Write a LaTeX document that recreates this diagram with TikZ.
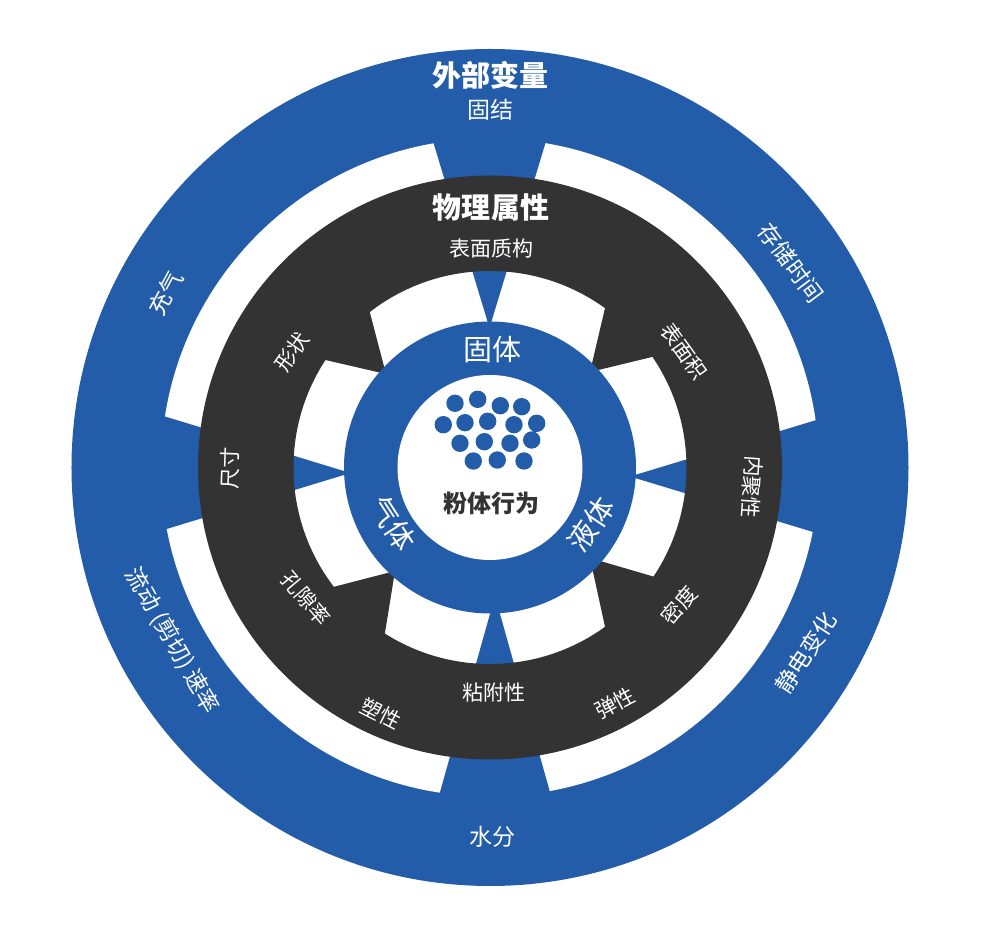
\documentclass[tikz,border=0pt]{standalone}
\usepackage{fontspec}
\newfontfamily\cjk{Noto Sans CJK SC}
\definecolor{ringblue}{RGB}{35,93,169}
\definecolor{ringdark}{RGB}{51,51,51}

\begin{document}
\begin{tikzpicture}[x=1pt, y=1pt,
    outerlabel/.style={text=white, inner sep=0pt, font=\cjk\fontsize{23}{23}\selectfont},
    innerlabel/.style={text=white, inner sep=0pt, font=\cjk\fontsize{21}{21}\selectfont},
    phaselabel/.style={text=white, inner sep=0pt, font=\cjk\fontsize{29}{29}\selectfont},
    ringtitle/.style={text=white, inner sep=0pt, font=\cjk\bfseries\fontsize{29}{29}\selectfont}]

    \useasboundingbox (-490,-473.5) rectangle (505,467.5);

    % Outer ring
    \fill[ringblue] (0,0) circle (418.5);
    \fill[white] (0,0) circle (329);

    % Blue gaps
    \fill[ringblue] (-0.5,139.5) -- (-69.5,367.5) -- (68.5,367.5) -- cycle;
    \fill[ringblue] (5,-128.5) -- (-62,-367.5) -- (72,-367.5) -- cycle;
    \fill[ringblue] (-139.6,-5.5) -- (-368,64.1) -- (-368,-75.1) -- cycle;
    \fill[ringblue] (140,-9) -- (370,60.7) -- (370,-78.7) -- cycle;

    % Dark ring
    \fill[ringdark, even odd rule] (0,0) circle (292) (0,0) circle (196.5);

    % Dark gaps
    \fill[ringdark] (100,95.5) -- +(13.6:150) -- +(76.8:150) -- cycle;
    \fill[ringdark] (-104,93.5) -- +(104.7:150) -- +(167:150) -- cycle;
    \fill[ringdark] (-95,-103.5) -- +(194.5:150) -- +(260.8:150) -- cycle;
    \fill[ringdark] (100,-90.5) -- +(-16.3:150) -- +(-77.7:150) -- cycle;

    % Phases
    \fill[ringblue] (0,0) circle (146);
    \fill[white] (0,0) circle (92.5);

    % Grains
    \fill[ringblue] (-35,64.2) circle (8.7) (-12.3,68.2) circle (8.7)
        (10.3,61.8) circle (8.7) (31.7,60.8) circle (8.7)
        (-46.7,42.8) circle (8.7) (-25,44.8) circle (8.7) (-2.3,46.2) circle (8.7)
        (24,42.8) circle (8.7) (46.7,44.2) circle (8.7)
        (-30,24.2) circle (8.7) (-5.7,25.8) circle (8.7) (20,24.2) circle (8.7)
        (41.7,27.5) circle (8.7)
        (-16.7,6.5) circle (8.7) (7.3,7.5) circle (8.7) (34,6.5) circle (8.7);

    % External variables
    \node[ringtitle] (external) at (0,392.5) {外部变量};
    \node[outerlabel] (consolidation) at (0,357.5) {固结};
    \node[outerlabel, rotate=-53] (storage) at (301,204.5) {存储时间};
    \node[outerlabel, rotate=57] (static) at (316,-185) {静电变化};
    \node[outerlabel] (moisture) at (2.5,-369.5) {水分};
    \node[outerlabel, rotate=-60] (flowrate) at (-318,-173.5) {流动 (剪切) 速率};
    \node[outerlabel, rotate=62] (aeration) at (-324,174.5) {充气};

    % Physical properties
    \node[ringtitle] (physical) at (1,260) {物理属性};
    \node[innerlabel] (texture) at (1,218.5) {表面质构};
    \node[innerlabel, rotate=-54] (area) at (194,116.5) {表面积};
    \node[innerlabel, rotate=-94] (cohesion) at (262,-19.5) {内聚性};
    \node[innerlabel, rotate=50] (density) at (189,-137.5) {密度};
    \node[innerlabel, rotate=28] (elasticity) at (125,-235.5) {弹性};
    \node[innerlabel] (adhesion) at (3.5,-225.5) {粘附性};
    \node[innerlabel, rotate=-27] (plasticity) at (-109,-246) {塑性};
    \node[innerlabel, rotate=-50] (porosity) at (-184,-130.5) {孔隙率};
    \node[innerlabel, rotate=88] (size) at (-260,-0.5) {尺寸};
    \node[innerlabel, rotate=55] (shape) at (-198,116) {形状};

    % Phase labels
    \node[phaselabel] (solid) at (2.5,118) {固体};
    \node[phaselabel, rotate=56] (liquid) at (101,-56.5) {液体};
    \node[phaselabel, rotate=-57] (gas) at (-97.5,-56) {气体};

    % Centre
    \node[inner sep=0pt, text=ringdark, font=\cjk\bfseries\fontsize{24}{24}\selectfont] (powder) at (1.5,-35.5) {粉体行为};
\end{tikzpicture}
\end{document}
